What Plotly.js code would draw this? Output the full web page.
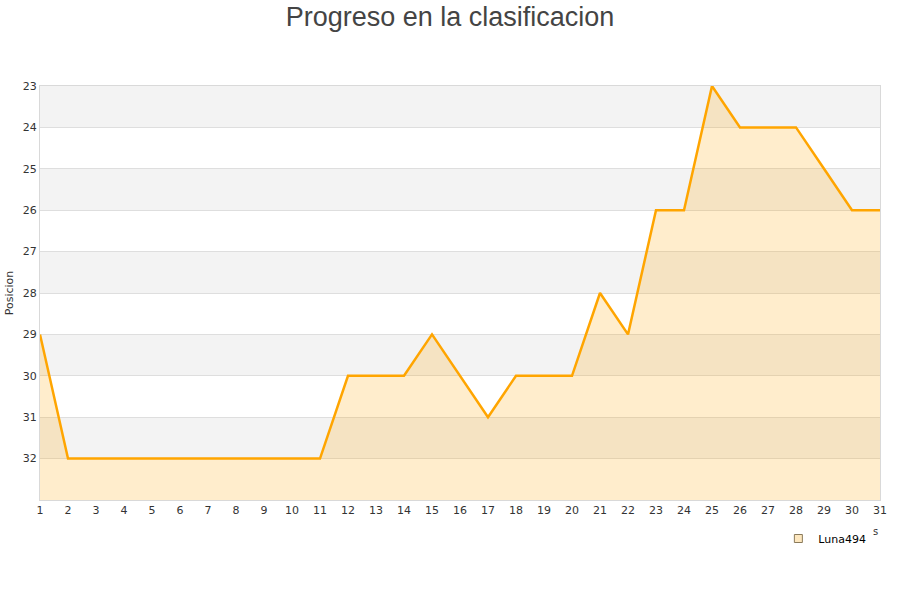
<!DOCTYPE html>
<html>
<head>
<meta charset="utf-8">
<script src="https://cdn.plot.ly/plotly-3.0.1.min.js"></script>
<style>html,body{margin:0;padding:0;background:#fff;}#chart{width:900px;height:600px;}</style>
</head>
<body>
<div id="chart"></div>
<script>
const jornadas = [1,2,3,4,5,6,7,8,9,10,11,12,13,14,15,16,17,18,19,20,21,22,23,24,25,26,27,28,29,30,31];
const posiciones = [29,32,32,32,32,32,32,32,32,32,32,30,30,30,29,30,31,30,30,30,28,29,26,26,23,24,24,24,25,26,26];
const seriesName = "Luna494";
const yTicks = [23,24,25,26,27,28,29,30,31,32];
const yBottom = 33;

const bands = [];
for (let v = 23; v < yBottom; v += 2) {
  bands.push({type:'rect', xref:'paper', yref:'y', x0:0, x1:1, y0:v, y1:v+1,
    fillcolor:'#f3f3f3', line:{width:0}, layer:'below'});
}

const baseline = {
  x: jornadas, y: jornadas.map(() => yBottom), mode:'lines',
  line:{width:0, color:'rgba(0,0,0,0)'}, showlegend:false, hoverinfo:'skip'
};
const main = {
  x: jornadas, y: posiciones, mode:'lines', name: seriesName, showlegend:false,
  line:{color:'#ffa500', width:2.5}, fill:'tonexty', fillcolor:'rgba(255,165,0,0.2)'
};
const legendItem = {
  x:[null], y:[null], mode:'markers', name: seriesName, showlegend:true,
  marker:{symbol:'square', size:8, color:'#fde7bf', line:{color:'#8a7a5a', width:1}}
};

const layout = {
  width:900, height:600,
  margin:{l:40, r:20, t:86, b:100},
  paper_bgcolor:'#fff', plot_bgcolor:'#fff',
  title:{text:'Progreso en la clasificacion', x:0.5, xanchor:'center', y:0.973, yanchor:'middle',
    font:{family:'Liberation Sans, Arial, sans-serif', size:27, color:'#444'}},
  font:{family:'DejaVu Sans, sans-serif', size:11, color:'#333'},
  xaxis:{range:[1,31], tickvals:jornadas, showgrid:false, zeroline:false,
    showline:true, linecolor:'#d9d9d9', linewidth:1, mirror:true, ticks:'', ticklen:0,
    tickfont:{size:11, color:'#333'}},
  yaxis:{range:[yBottom,23], tickvals:yTicks, showgrid:true, gridcolor:'#dedede', gridwidth:1,
    zeroline:false, showline:true, linecolor:'#d9d9d9', linewidth:1, mirror:true, ticks:'',
    tickfont:{size:11, color:'#333'},
    title:{text:'Posicion', font:{size:11, color:'#333'}, standoff:6}},
  shapes: bands,
  showlegend:true,
  legend:{x:0.879, xanchor:'left', y:-0.058, yanchor:'top', orientation:'h',
    bgcolor:'rgba(0,0,0,0)', font:{size:11, color:'#000'}, itemwidth:30},
  annotations:[{text:'s', xref:'paper', yref:'paper', x:0.995, y:-0.075, xanchor:'center', yanchor:'middle',
    showarrow:false, font:{size:10, color:'#333'}}]
};

Plotly.newPlot('chart', [baseline, main, legendItem], layout, {displayModeBar:false, staticPlot:true});
</script>
</body>
</html>
